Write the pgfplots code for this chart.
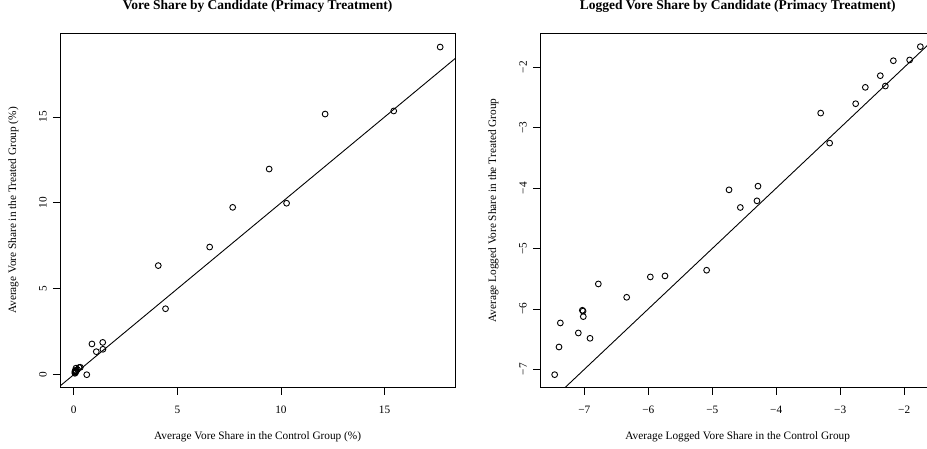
\documentclass[border=0pt]{standalone}
\usepackage{fontspec}
\setmainfont{Liberation Serif}
\usepackage{pgfplots}
\pgfplotsset{compat=1.18}
\pgfplotstableread{
x y
17.68 19.07
15.44 15.35
12.13 15.17
10.27 9.98
9.43 11.97
7.67 9.74
6.56 7.43
4.08 6.35
4.43 3.84
1.40 1.88
0.88 1.79
1.09 1.34
1.41 1.48
0.63 0.00
0.26 0.42
0.32 0.43
0.11 0.38
0.18 0.30
0.09 0.24
0.09 0.25
0.09 0.22
0.06 0.20
0.08 0.17
0.10 0.15
0.06 0.13
0.06 0.08
}\rawdata
\pgfplotstableread{
x y
-1.747 -1.657
-1.914 -1.878
-2.169 -1.890
-2.373 -2.138
-2.294 -2.309
-2.607 -2.331
-2.758 -2.602
-3.305 -2.757
-3.165 -3.254
-4.738 -4.028
-4.285 -3.967
-4.561 -4.320
-4.301 -4.210
-5.088 -5.359
-5.968 -5.470
-5.739 -5.453
-6.781 -5.586
-6.338 -5.807
-7.031 -6.022
-7.020 -6.035
-7.016 -6.127
-7.375 -6.232
-7.094 -6.398
-6.911 -6.486
-7.396 -6.630
-7.464 -7.088
}\logdata
\pgfplotsset{
  rstyle/.style={
    scale only axis,
    width=395.3pt, height=354.4pt,
    axis line style={line width=0.9pt},
    tick align=outside,
    xtick pos=lower, ytick pos=left,
    major tick length=7pt,
    tick style={line width=0.8pt, black},
    font=\fontsize{11.3}{13}\selectfont,
    xticklabel style={anchor=north, inner sep=0pt, yshift=-11pt},
    yticklabel style={rotate=90, anchor=south, inner sep=0pt, yshift=6pt},
    xlabel style={at={(axis description cs:0.5,0)}, anchor=center, yshift=-49pt},
    ylabel style={at={(axis description cs:0,0.5)}, anchor=center, yshift=46.7pt},
    title style={at={(axis description cs:0.5,1)}, anchor=center, yshift=20.6pt, font=\fontsize{13.5}{15}\selectfont\bfseries},
    clip=true,
  },
  pts/.style={only marks, mark=o, mark size=2.9pt, mark options={line width=0.9pt, black}},
}
\begin{document}
\begin{tikzpicture}[x=1pt,y=1pt]
\begin{axis}[rstyle,
  at={(60pt,60.3pt)}, anchor=south west,
  xmin=-0.661, xmax=18.41, ymin=-0.757, ymax=19.87,
  xtick={0,5,10,15}, ytick={0,5,10,15},
  xticklabels={0,5,10,15}, yticklabels={0,5,10,15},
  title={Vore Share by Candidate (Primacy Treatment)},
  xlabel={Average Vore Share in the Control Group (\%)},
  ylabel={Average Vore Share in the Treated Group (\%)},
]
\addplot[black, line width=0.9pt] coordinates {(-2,-2) (25,25)};
\addplot[pts] table[x=x,y=y] {\rawdata};
\end{axis}
\begin{axis}[rstyle,
  at={(540pt,60.3pt)}, anchor=south west,
  xmin=-7.693, xmax=-1.513, ymin=-7.304, ymax=-1.436,
  xtick={-7,-6,-5,-4,-3,-2}, ytick={-7,-6,-5,-4,-3,-2},
  xticklabels={−7,−6,−5,−4,−3,−2}, yticklabels={−7,−6,−5,−4,−3,−2},
  title={Logged Vore Share by Candidate (Primacy Treatment)},
  xlabel={Average Logged Vore Share in the Control Group},
  ylabel={Average Logged Vore Share in the Treated Group},
]
\addplot[black, line width=0.9pt] coordinates {(-9,-9) (0,0)};
\addplot[pts] table[x=x,y=y] {\logdata};
\end{axis}
\pgfresetboundingbox
\useasboundingbox (0,0) rectangle (927,448);
\end{tikzpicture}
\end{document}
